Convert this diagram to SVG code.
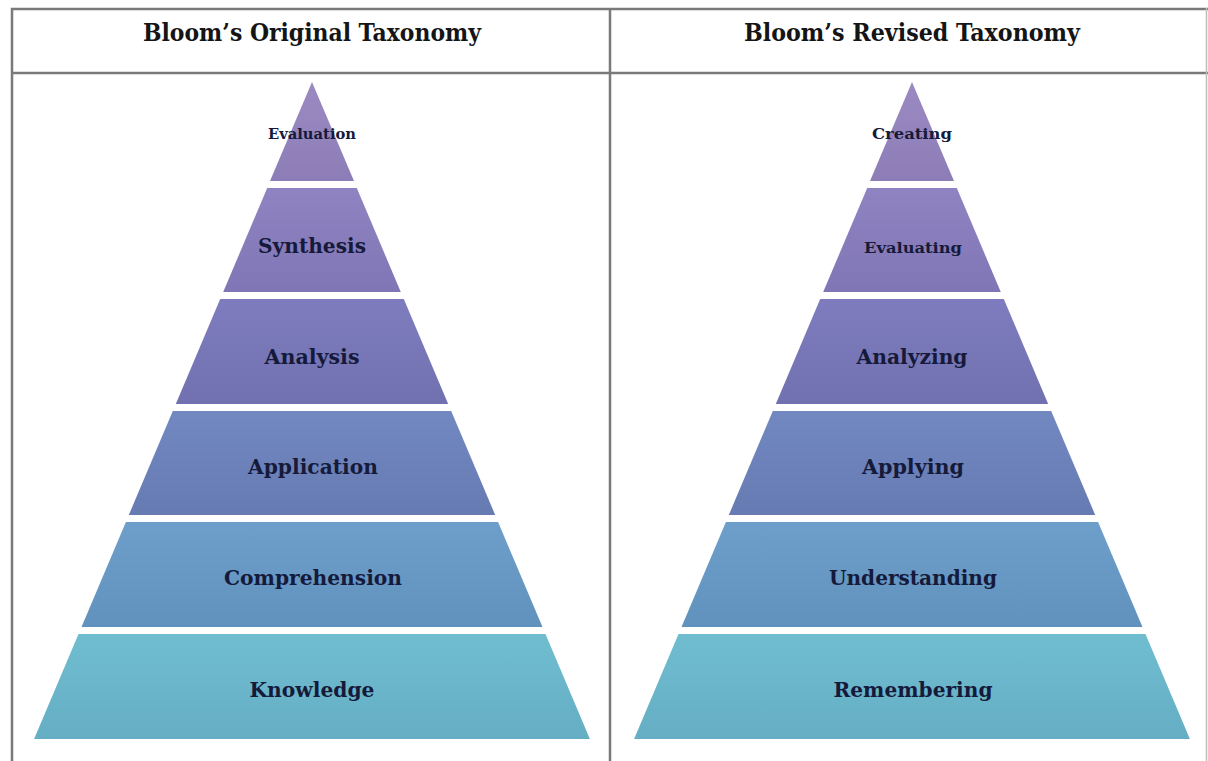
<svg xmlns="http://www.w3.org/2000/svg" width="1208" height="761" viewBox="0 0 1208 761">
  <defs>
    <linearGradient id="g1" x1="0" y1="0" x2="0" y2="1"><stop offset="0" stop-color="#9b8ac2"/><stop offset="1" stop-color="#8d7db7"/></linearGradient>
    <linearGradient id="g2" x1="0" y1="0" x2="0" y2="1"><stop offset="0" stop-color="#8f83c2"/><stop offset="1" stop-color="#8176b5"/></linearGradient>
    <linearGradient id="g3" x1="0" y1="0" x2="0" y2="1"><stop offset="0" stop-color="#7e7cbe"/><stop offset="1" stop-color="#7171b0"/></linearGradient>
    <linearGradient id="g4" x1="0" y1="0" x2="0" y2="1"><stop offset="0" stop-color="#7288c0"/><stop offset="1" stop-color="#677bb3"/></linearGradient>
    <linearGradient id="g5" x1="0" y1="0" x2="0" y2="1"><stop offset="0" stop-color="#6d9fca"/><stop offset="1" stop-color="#6192be"/></linearGradient>
    <linearGradient id="g6" x1="0" y1="0" x2="0" y2="1"><stop offset="0" stop-color="#70bdd0"/><stop offset="1" stop-color="#65aec4"/></linearGradient>
  </defs>
  <style>
    .rule { stroke: #7a7a7a; stroke-width: 2.5; fill: none; }
    .head { font-family: "DejaVu Serif", "Liberation Serif", serif; font-stretch: condensed; font-weight: bold; font-size: 25px; fill: #151515; text-anchor: middle; }
    .lbl { font-family: "DejaVu Serif", "Liberation Serif", serif; font-stretch: condensed; font-weight: bold; font-size: 21px; fill: #151a3a; text-anchor: middle; }
    .sm { font-family: "DejaVu Serif", "Liberation Serif", serif; font-stretch: condensed; font-weight: bold; font-size: 15px; fill: #151a3a; text-anchor: middle; }
  </style>
  <rect width="1208" height="761" fill="#ffffff"/>

  <!-- table frame -->
  <g id="table">
    <line class="rule" x1="11" y1="9" x2="1208" y2="9"/>
    <line class="rule" x1="11" y1="73" x2="1208" y2="73"/>
    <line class="rule" x1="12" y1="8" x2="12" y2="761"/>
    <line class="rule" x1="610" y1="8" x2="610" y2="761"/>
    <line x1="1206.5" y1="8" x2="1206.5" y2="761" stroke="#bdbdbd" stroke-width="1.5"/>
    <text class="head" x="312" y="41" textLength="338" lengthAdjust="spacingAndGlyphs">Bloom’s Original Taxonomy</text>
    <text class="head" x="912" y="41" textLength="336" lengthAdjust="spacingAndGlyphs">Bloom’s Revised Taxonomy</text>
  </g>

  <!-- original taxonomy pyramid -->
  <g id="original">
    <g id="evaluation">
      <polygon fill="url(#g1)" points="312,82 354,181 270,181"/>
      <text class="sm" x="312" y="139" textLength="88" lengthAdjust="spacingAndGlyphs">Evaluation</text>
    </g>
    <g id="synthesis">
      <polygon fill="url(#g2)" points="267.2,188 356.8,188 400.8,292 223.2,292"/>
      <text class="lbl" x="312" y="253" textLength="108" lengthAdjust="spacingAndGlyphs">Synthesis</text>
    </g>
    <g id="analysis">
      <polygon fill="url(#g3)" points="220.2,299 403.8,299 448.2,404 175.8,404"/>
      <text class="lbl" x="312" y="364" textLength="95" lengthAdjust="spacingAndGlyphs">Analysis</text>
    </g>
    <g id="application">
      <polygon fill="url(#g4)" points="172.8,411 451.2,411 495.2,515 128.8,515"/>
      <text class="lbl" x="313" y="474" textLength="130" lengthAdjust="spacingAndGlyphs">Application</text>
    </g>
    <g id="comprehension">
      <polygon fill="url(#g5)" points="125.9,522 498.1,522 542.5,627 81.5,627"/>
      <text class="lbl" x="313" y="585" textLength="178" lengthAdjust="spacingAndGlyphs">Comprehension</text>
    </g>
    <g id="knowledge">
      <polygon fill="url(#g6)" points="78.5,634 545.5,634 589.9,739 34.1,739"/>
      <text class="lbl" x="312" y="697" textLength="125" lengthAdjust="spacingAndGlyphs">Knowledge</text>
    </g>
  </g>

  <!-- revised taxonomy pyramid -->
  <g id="revised">
    <g id="creating">
      <polygon fill="url(#g1)" points="912,82 954,181 870,181"/>
      <text class="sm" x="912" y="139" textLength="80" lengthAdjust="spacingAndGlyphs">Creating</text>
    </g>
    <g id="evaluating">
      <polygon fill="url(#g2)" points="867.2,188 956.8,188 1000.8,292 823.2,292"/>
      <text class="sm" x="913" y="253" textLength="98" lengthAdjust="spacingAndGlyphs">Evaluating</text>
    </g>
    <g id="analyzing">
      <polygon fill="url(#g3)" points="820.2,299 1003.8,299 1048.2,404 775.8,404"/>
      <text class="lbl" x="912" y="364" textLength="111" lengthAdjust="spacingAndGlyphs">Analyzing</text>
    </g>
    <g id="applying">
      <polygon fill="url(#g4)" points="772.8,411 1051.2,411 1095.2,515 728.8,515"/>
      <text class="lbl" x="913" y="474" textLength="102" lengthAdjust="spacingAndGlyphs">Applying</text>
    </g>
    <g id="understanding">
      <polygon fill="url(#g5)" points="725.9,522 1098.1,522 1142.5,627 681.5,627"/>
      <text class="lbl" x="913" y="585" textLength="168" lengthAdjust="spacingAndGlyphs">Understanding</text>
    </g>
    <g id="remembering">
      <polygon fill="url(#g6)" points="678.5,634 1145.5,634 1189.9,739 634.1,739"/>
      <text class="lbl" x="913" y="697" textLength="159" lengthAdjust="spacingAndGlyphs">Remembering</text>
    </g>
  </g>

  <!-- no connectors in this figure -->
  <g id="connectors"/>
</svg>
